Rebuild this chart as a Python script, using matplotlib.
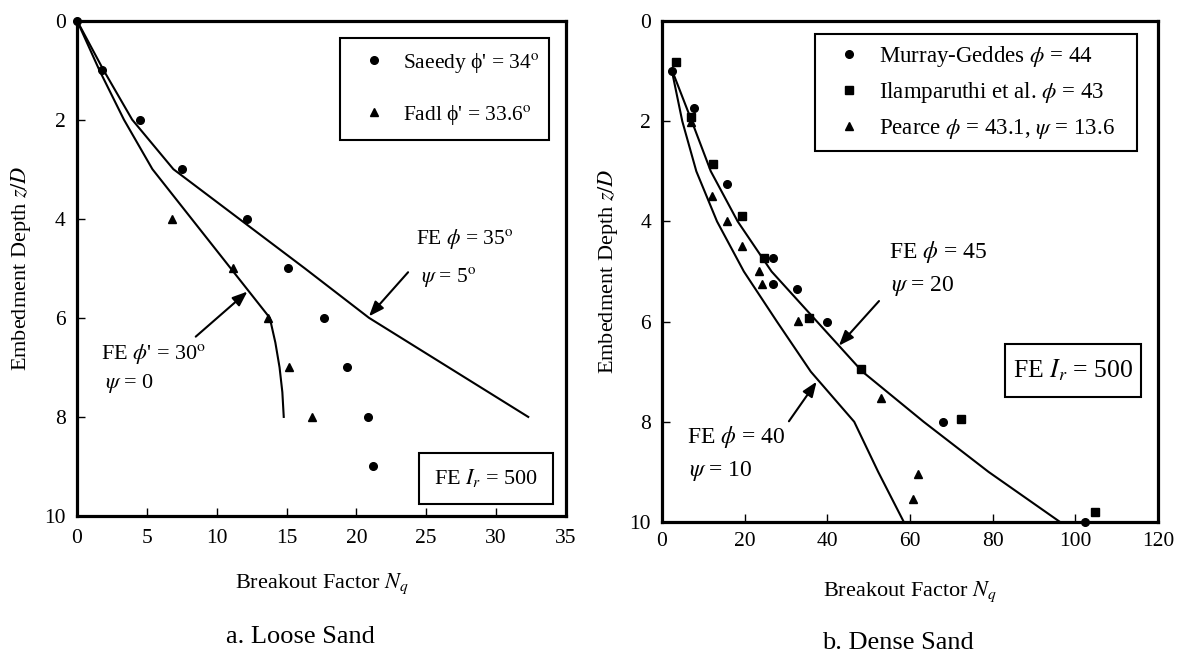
import matplotlib
matplotlib.use("Agg")
import matplotlib.pyplot as plt
from matplotlib.patches import Rectangle
from matplotlib.lines import Line2D

plt.rcParams['font.family'] = ['Liberation Serif', 'DejaVu Serif']
plt.rcParams['mathtext.fontset'] = 'stix'

# ---- Loose sand (panel a) ----
loose_saeedy_nq = [0.0, 1.8, 4.5, 7.5, 12.15, 15.1, 17.7, 19.3, 20.8, 21.2]
loose_saeedy_depth = [0, 1, 2, 3, 4, 5, 6, 7, 8, 9]
loose_fadl_nq = [6.8, 11.2, 13.7, 15.2, 16.8]
loose_fadl_depth = [4, 5, 6, 7, 8]
loose_fe35_nq = [0.0, 1.9, 3.95, 6.9, 11.6, 16.3, 20.9, 26.6, 32.3]
loose_fe35_depth = [0, 1, 2, 3, 4, 5, 6, 7, 8]
loose_fe30_nq = [0.0, 1.6, 3.36, 5.4, 8.2, 11.0, 13.8, 14.2, 14.5, 14.7, 14.8]
loose_fe30_depth = [0, 1, 2, 3, 4, 5, 6, 6.5, 7, 7.5, 8]

# ---- Dense sand (panel b) ----
dense_murray_nq = [2.4, 7.7, 15.8, 26.8, 26.8, 32.6, 40.0, 67.9, 102.3]
dense_murray_depth = [1.0, 1.74, 3.25, 4.74, 5.24, 5.34, 6.0, 8.0, 10.0]
dense_ilam_nq = [3.5, 7.1, 12.3, 19.3, 24.6, 35.6, 48.2, 72.3, 104.8]
dense_ilam_depth = [0.82, 1.91, 2.86, 3.89, 4.74, 5.93, 6.94, 7.95, 9.8]
dense_pearce_nq = [7.1, 12.1, 15.8, 19.3, 23.5, 24.1, 33.0, 53.0, 61.9, 60.7]
dense_pearce_depth = [2.01, 3.5, 4.0, 4.49, 4.99, 5.24, 5.98, 7.53, 9.04, 9.54]
dense_fe45_nq = [2.5, 7.2, 11.8, 18.3, 26.5, 37.5, 48.5, 63.3, 79.0, 96.3]
dense_fe45_depth = [1, 2, 3, 4, 5, 6, 7, 8, 9, 10]
dense_fe40_nq = [2.4, 4.9, 8.3, 13.3, 19.8, 27.8, 36.0, 46.5, 52.3, 58.5]
dense_fe40_depth = [1, 2, 3, 4, 5, 6, 7, 8, 9, 10]

loose_xticks = [0, 5, 10, 15, 20, 25, 30, 35]
dense_xticks = [0, 20, 40, 60, 80, 100, 120]
depth_ticks = [0, 2, 4, 6, 8, 10]

fig = plt.figure(figsize=(11.86, 6.56), dpi=100)
ax1 = fig.add_axes([0.0649, 0.2134, 0.4123, 0.7553])
ax2 = fig.add_axes([0.5582, 0.2043, 0.4182, 0.7637])

MS = 5.5
LW = 1.5


def style_axes(ax, xticks, xmax, xpad):
    ax.set_xlim(0, xmax)
    ax.set_ylim(10, 0)
    ax.set_xticks(xticks)
    ax.set_yticks(depth_ticks)
    for s in ax.spines.values():
        s.set_linewidth(2.3)
    ax.tick_params(axis='both', direction='in', length=6, width=1,
                   labelsize=15.5, top=False, right=False)
    ax.tick_params(axis='x', pad=xpad)
    ax.tick_params(axis='y', pad=8)
    ax.set_xlabel(r"Breakout Factor $N_q$", fontsize=16)
    ax.set_ylabel(r"Embedment Depth $z/D$", fontsize=16)


def label_box(ax, x0, y0, x1, y1, text, size):
    ax.add_patch(Rectangle((x0, y0), x1 - x0, y1 - y0, transform=ax.transAxes,
                           fill=False, edgecolor='black', lw=1.5, zorder=5))
    ax.text((x0 + x1) / 2, (y0 + y1) / 2, text, transform=ax.transAxes,
            ha='center', va='center', fontsize=size, zorder=6)


arrow = dict(arrowstyle='-|>,head_length=0.9,head_width=0.35', color='black',
             lw=1.5, shrinkA=0, shrinkB=0)

# ---------------- Panel a ----------------
style_axes(ax1, loose_xticks, 35, 9)
ax1.plot(loose_fe35_nq, loose_fe35_depth, color='black', lw=LW)
ax1.plot(loose_fe30_nq, loose_fe30_depth, color='black', lw=LW)
ax1.plot(loose_saeedy_nq, loose_saeedy_depth, 'o', color='black', ms=MS, clip_on=False)
ax1.plot(loose_fadl_nq, loose_fadl_depth, '^', color='black', ms=MS, clip_on=False)

h1 = [Line2D([], [], marker='o', ls='none', color='black', ms=MS),
      Line2D([], [], marker='^', ls='none', color='black', ms=MS)]
leg1 = ax1.legend(h1, [r"Saeedy ϕ' = 34$^{\rm o}$", r"Fadl ϕ' = 33.6$^{\rm o}$"],
                  loc='upper left', bbox_to_anchor=(0.538, 0.0, 0.427, 0.9647),
                  mode='expand', borderaxespad=0, fontsize=15.5, numpoints=1,
                  borderpad=0.6, handlelength=2.0, handletextpad=0.34,
                  labelspacing=1.3, fancybox=False, edgecolor='black', framealpha=1)
leg1.get_frame().set_linewidth(1.5)

ax1.text(24.3, 4.4, r"FE $\phi$ = 35$^{\rm o}$", fontsize=15.5, ha='left', va='center')
ax1.text(24.6, 5.17, r"$\psi$ = 5$^{\rm o}$", fontsize=15.5, ha='left', va='center')
ax1.annotate("", xy=(20.9, 5.97), xytext=(23.7, 5.08), arrowprops=arrow)
ax1.text(1.75, 6.74, r"FE $\phi$' = 30$^{\rm o}$", fontsize=16, ha='left', va='center')
ax1.text(2.0, 7.33, r"$\psi$ = 0", fontsize=16, ha='left', va='center')
ax1.annotate("", xy=(12.2, 5.47), xytext=(8.5, 6.38), arrowprops=arrow)
label_box(ax1, 0.699, 0.025, 0.973, 0.128, r"FE $I_r$ = 500", 16)

ax1.yaxis.set_label_coords(-0.09, 0.5)
ax1.xaxis.set_label_coords(0.5, -0.111)

# ---------------- Panel b ----------------
style_axes(ax2, dense_xticks, 120, 7)
ax2.plot(dense_fe45_nq, dense_fe45_depth, color='black', lw=LW)
ax2.plot(dense_fe40_nq, dense_fe40_depth, color='black', lw=LW)
ax2.plot(dense_murray_nq, dense_murray_depth, 'o', color='black', ms=MS, clip_on=False)
ax2.plot(dense_ilam_nq, dense_ilam_depth, 's', color='black', ms=MS, clip_on=False)
ax2.plot(dense_pearce_nq, dense_pearce_depth, '^', color='black', ms=MS, clip_on=False)

h2 = [Line2D([], [], marker='o', ls='none', color='black', ms=MS),
      Line2D([], [], marker='s', ls='none', color='black', ms=MS),
      Line2D([], [], marker='^', ls='none', color='black', ms=MS)]
leg2 = ax2.legend(h2, [r"Murray-Geddes $\phi$ = 44",
                       r"Ilamparuthi et al. $\phi$ = 43",
                       r"Pearce $\phi$ = 43.1, $\psi$ = 13.6"],
                  loc='upper left', bbox_to_anchor=(0.308, 0.0, 0.65, 0.975),
                  mode='expand', borderaxespad=0, fontsize=16.5, numpoints=1,
                  borderpad=0.45, handlelength=2.12, handletextpad=0.22,
                  labelspacing=0.5, fancybox=False, edgecolor='black', framealpha=1)
leg2.get_frame().set_linewidth(1.5)

ax2.text(55, 4.62, r"FE $\phi$ = 45", fontsize=17, ha='left', va='center')
ax2.text(55.5, 5.29, r"$\psi$ = 20", fontsize=17, ha='left', va='center')
ax2.annotate("", xy=(42.8, 6.48), xytext=(52.5, 5.59), arrowprops=arrow)
ax2.text(6.0, 8.31, r"FE $\phi$ = 40", fontsize=17, ha='left', va='center')
ax2.text(6.6, 8.99, r"$\psi$ = 10", fontsize=17, ha='left', va='center')
ax2.annotate("", xy=(37.4, 7.2), xytext=(30.7, 7.99), arrowprops=arrow)
label_box(ax2, 0.6915, 0.2495, 0.9657, 0.3553, r"FE $I_r$ = 500", 18.5)

ax2.yaxis.set_label_coords(-0.085, 0.5)
ax2.xaxis.set_label_coords(0.5, -0.114)

fig.text(0.2535, 1 - 637 / 656, "a. Loose Sand", fontsize=19, ha='center', va='center')
fig.text(0.757, 1 - 643 / 656, "b. Dense Sand", fontsize=19, ha='center', va='center')

fig.savefig("out.png", dpi=100, facecolor='white')
